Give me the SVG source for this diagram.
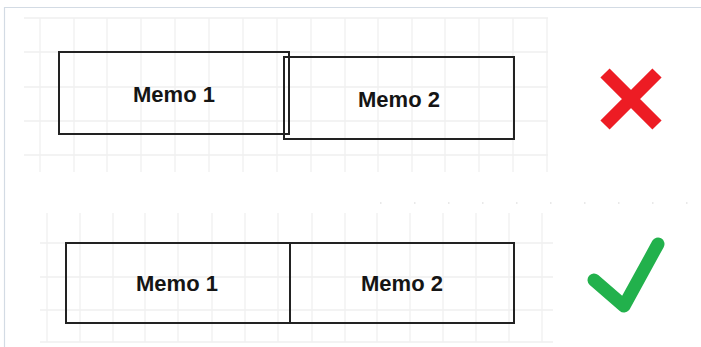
<svg xmlns="http://www.w3.org/2000/svg" width="701" height="347" viewBox="0 0 701 347">
<defs>
<style>
.frame{fill:none;stroke:#d3dbe4;stroke-width:1.2}
.grid{stroke:#f0f0f0;stroke-width:1.3;fill:none}
.box{fill:none;stroke:#222;stroke-width:2}
.lbl{font-family:"Liberation Sans",Arial,sans-serif;font-weight:bold;font-size:22px;fill:#151515;text-anchor:middle}
</style>
</defs>
<rect width="701" height="347" fill="#fff"/>
<path class="frame" d="M4.5 347 V7.5 H701"/>
<g id="grid-top" class="grid">
<path d="M40 18V172M74 18V172M107 18V172M141 18V172M175 18V172M209 18V172M243 18V172M277 18V172M311 18V172M345 18V172M378 18V172M412 18V172M445 18V172M479 18V172M513 18V172M547 18V172"/>
<path d="M24 18H548M24 52H548M24 87H548M24 121H548M24 155H548"/>
</g>
<g id="grid-bottom" class="grid">
<path d="M47 213V342M80 213V342M113 213V342M145 213V342M178 213V342M212 213V342M245 213V342M278 213V342M312 213V342M345 213V342M377 213V342M410 213V342M443 213V342M476 213V342M509 213V342M542 213V342"/>
<path d="M40 243H553M40 277H553M40 310H553M40 342H553"/>
</g>
<path d="M380 203H701" stroke="#e2e2e2" stroke-width="1.5" stroke-dasharray="1.5 32.5"/>
<g id="memo1-bad">
<rect class="box" x="59" y="52" width="230" height="82"/>
<text class="lbl" x="174" y="102">Memo 1</text>
</g>
<g id="memo2-bad">
<rect class="box" x="284" y="57" width="230" height="82"/>
<text class="lbl" x="399" y="107">Memo 2</text>
</g>
<g id="cross">
<path d="M605 73L657 125M657 73L605 125" stroke="#ed1c24" stroke-width="13" fill="none"/>
</g>
<g id="memo1-good">
<rect class="box" x="66" y="243" width="224" height="80"/>
<text class="lbl" x="177" y="291">Memo 1</text>
</g>
<g id="memo2-good">
<rect class="box" x="290" y="243" width="224" height="80"/>
<text class="lbl" x="402" y="291">Memo 2</text>
</g>
<g id="check">
<path d="M594 280L624 306L658 244" stroke="#22b14c" stroke-width="13" stroke-linecap="round" stroke-linejoin="round" fill="none"/>
</g>
<g id="connectors"></g>
</svg>
